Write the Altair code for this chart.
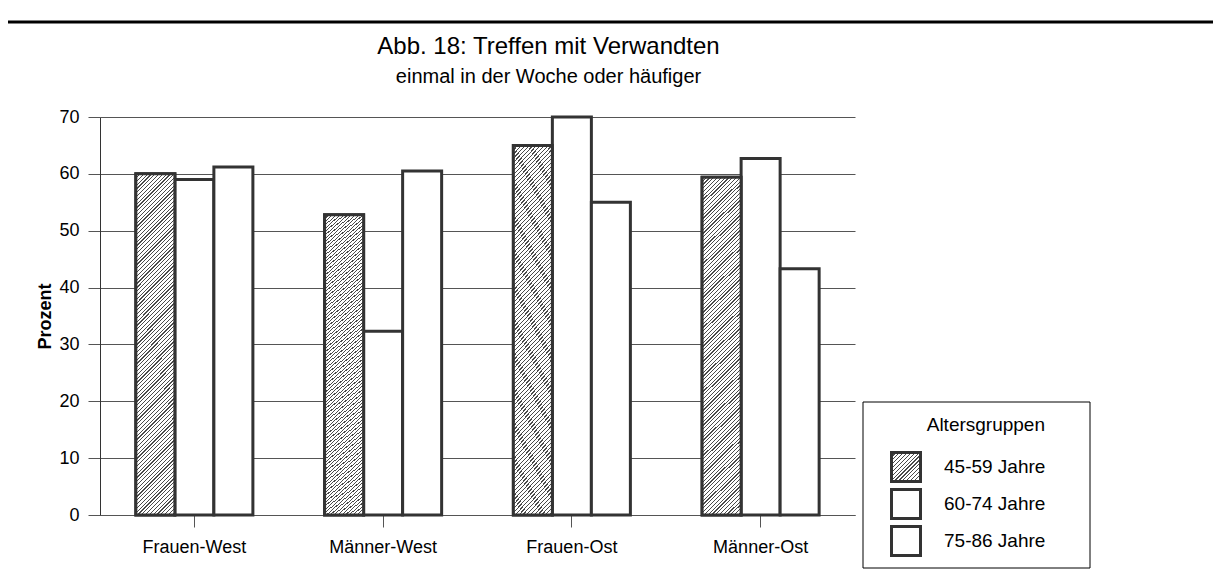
import altair as alt
import pandas as pd

# ---- data ----
categories = ["Frauen-West", "Männer-West", "Frauen-Ost", "Männer-Ost"]
groups = ["45-59 Jahre", "60-74 Jahre", "75-86 Jahre"]
values_45_59 = [60.0, 52.8, 65.0, 59.4]
values_60_74 = [59.0, 32.3, 70.0, 62.7]
values_75_86 = [61.2, 60.5, 55.0, 43.3]
y_ticks = [0, 10, 20, 30, 40, 50, 60, 70]

rows = []
for g, vals in zip(groups, [values_45_59, values_60_74, values_75_86]):
    for c, v in zip(categories, vals):
        rows.append({"Gruppe": g, "Kategorie": c, "Prozent": v})
df = pd.DataFrame(rows)

# ---- styling ----
W, H = 755, 398
INK = "#333333"
FONT = "Liberation Sans"


def stripe_stops(n, dark=0.32, color="#4a4a4a"):
    stops = []
    for i in range(n):
        a = round(i / n, 5)
        b = round((i + dark) / n, 5)
        c = round((i + 1) / n, 5)
        stops += [
            {"offset": a, "color": color},
            {"offset": b, "color": color},
            {"offset": b, "color": "#ffffff"},
            {"offset": c, "color": "#ffffff"},
        ]
    return stops


bar_gradient = {
    "gradient": "linear",
    "x1": 0, "y1": 0, "x2": 0.1262, "y2": 1.1002,
    "stops": stripe_stops(100),
}

legend_stops = stripe_stops(15)
legend_expr = (
    "{gradient:'linear',x1:0,y1:0,x2:1,y2:1,stops:["
    + ",".join("{offset:%s,color:'%s'}" % (s["offset"], s["color"]) for s in legend_stops)
    + "]}"
)

base = alt.Chart(df).encode(
    x=alt.X(
        "Kategorie:N",
        sort=categories,
        scale=alt.Scale(domain=categories, paddingInner=0.38, paddingOuter=0.19),
        axis=alt.Axis(
            title=None, labelAngle=0, labelFontSize=18, labelFont=FONT,
            labelColor="black", tickSize=12, tickColor="#555555",
            domainColor="#555555", labelPadding=11, grid=False,
        ),
    ),
    xOffset=alt.XOffset("Gruppe:N", sort=groups, scale=alt.Scale(domain=groups)),
    y=alt.Y(
        "Prozent:Q",
        scale=alt.Scale(domain=[0, 70], nice=False),
        axis=alt.Axis(
            values=y_ticks, title="Prozent", titleFontSize=18, titleFont=FONT,
            titleFontWeight="bold", titleColor="black", titleAngle=270,
            titleX=-46, titleY=H / 2, titleAlign="center", titleBaseline="bottom",
            labelFontSize=18, labelFont=FONT, labelColor="black", labelPadding=9,
            tickSize=12, tickColor="#555555", domainColor="#333333",
            grid=True, gridColor="#555555", gridWidth=1,
        ),
    ),
)

# frame drawn behind the legend (legend box of the reference)
legend_frame = alt.Chart(pd.DataFrame({"r": [0]})).mark_rect(
    fill="white", stroke="black", strokeWidth=1
).encode(
    x=alt.value(763), x2=alt.value(990), y=alt.value(285), y2=alt.value(451)
)

bars = base.mark_bar(stroke=INK, strokeWidth=3).encode(
    fill=alt.Fill(
        "Gruppe:N",
        sort=groups,
        scale=alt.Scale(domain=groups, range=[{"expr": legend_expr}, "#ffffff", "#ffffff"]),
        legend=alt.Legend(
            title="Altersgruppen", orient="none", legendX=763, legendY=285,
            padding=14,
            symbolType="square", symbolSize=841, symbolStrokeColor=INK,
            symbolStrokeWidth=3, symbolOffset=13,
            labelFontSize=19, labelFont=FONT, labelOffset=22, labelColor="black",
            titleFontSize=19, titleFont=FONT, titleFontWeight="normal",
            titleColor="black", titleAnchor="end",
            titlePadding=16, rowPadding=-12,
        ),
    )
)

hatch = base.transform_filter(alt.datum.Gruppe == groups[0]).mark_bar(
    fill=bar_gradient, stroke=INK, strokeWidth=3
)

top_rule = alt.Chart(pd.DataFrame({"r": [0]})).mark_rule(
    color="black", strokeWidth=3
).encode(x=alt.value(-92), x2=alt.value(1113), y=alt.value(-95))

chart = alt.layer(legend_frame, bars, hatch, top_rule).properties(
    width=W,
    height=H,
    padding={"left": 92, "top": 109, "right": 358, "bottom": 61},
    autosize=alt.AutoSizeParams(type="none"),
    title=alt.TitleParams(
        text="Abb. 18: Treffen mit Verwandten",
        subtitle="einmal in der Woche oder häufiger",
        anchor="middle", dx=71, offset=-66,
        fontSize=24, font=FONT, fontWeight="normal", color="black",
        subtitleFontSize=20, subtitleFont=FONT, subtitleColor="black",
        subtitlePadding=8,
    ),
).configure_view(stroke="transparent")

chart.save("out.html", embed_options={"renderer": "svg", "actions": False})
